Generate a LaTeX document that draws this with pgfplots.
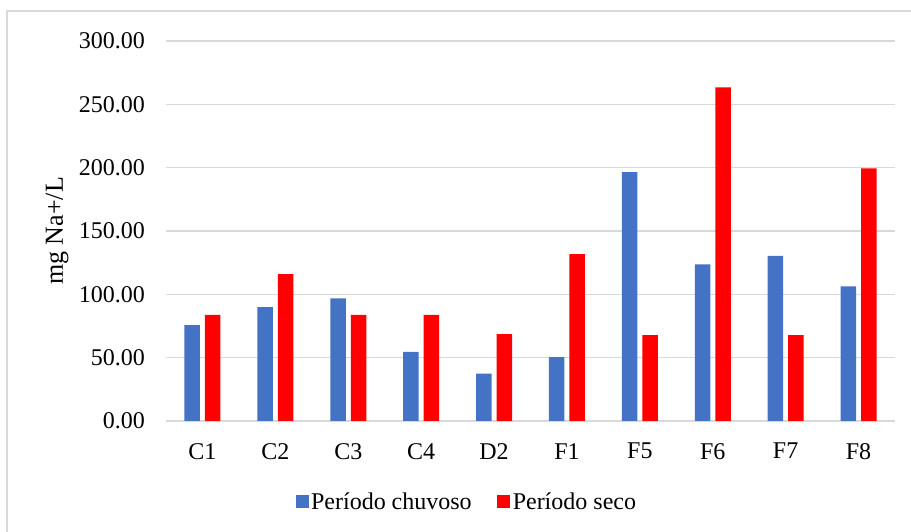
\documentclass[border=0pt]{standalone}
\usepackage{fontspec}
\setmainfont{Liberation Serif}
\usepackage{pgfplots}
\pgfplotsset{compat=1.18}
\definecolor{cblue}{HTML}{4472C4}
\definecolor{cred}{HTML}{FF0000}
\definecolor{cgrid}{HTML}{D9D9D9}
\begin{document}
\begin{tikzpicture}[x=1bp,y=1bp]
\useasboundingbox (0,0) rectangle (911,532);
\draw[cgrid, line width=1.5bp] (7,0) -- (7,521) -- (911,521);
\begin{axis}[
  at={(166bp,111bp)}, anchor=south west,
  scale only axis, width=729bp, height=380bp,
  ybar=5bp, bar width=15.5bp,
  xmin=-0.5, xmax=9.5, ymin=0, ymax=300,
  enlargelimits=false,
  xtick={0,...,9},
  xticklabels={C1,C2,C3,C4,D2,F1,F5,F6,F7,F8},
  ytick={0,50,...,300},
  ymajorgrids,
  major grid style={draw=cgrid, line width=1.6bp},
  axis line style={draw=none},
  tick style={draw=none},
  major tick length=0pt,
  ticklabel style={font=\fontsize{24bp}{28bp}\selectfont},
  yticklabel style={/pgf/number format/.cd, fixed, fixed zerofill, precision=2, assume math mode=true, /tikz/.cd, anchor=east, inner sep=0pt, xshift=-21bp},
  xticklabel style={anchor=north, inner sep=0pt, yshift=-22bp},
  ylabel={mg Na+/L},
  ylabel style={at={(axis description cs:-0.1495,0.5)}, anchor=center, rotate=0, font=\fontsize{26bp}{30bp}\selectfont, inner sep=0pt},
  legend columns=2,
  legend style={at={(axis description cs:0.413,-0.213)}, anchor=center, draw=none, fill=none,
    font=\fontsize{24bp}{28bp}\selectfont,
    nodes={inner sep=2.5bp},
    /tikz/every even column/.append style={column sep=23bp}},
  legend image code/.code={\fill[#1] (0bp,-6.5bp) rectangle (13bp,6.5bp);},
]
\addplot[fill=cblue, draw=none] coordinates {
(0,75.6) (1,89.8) (2,96.9) (3,54.6) (4,37.3) (5,50.5) (6,196.4) (7,123.6) (8,130.4) (9,106.2)};
\addlegendentry{Período chuvoso}
\addplot[fill=cred, draw=none] coordinates {
(0,83.8) (1,116.0) (2,83.8) (3,83.8) (4,68.5) (5,131.7) (6,67.8) (7,263.4) (8,67.8) (9,199.5)};
\addlegendentry{Período seco}
\end{axis}
\end{tikzpicture}
\end{document}
